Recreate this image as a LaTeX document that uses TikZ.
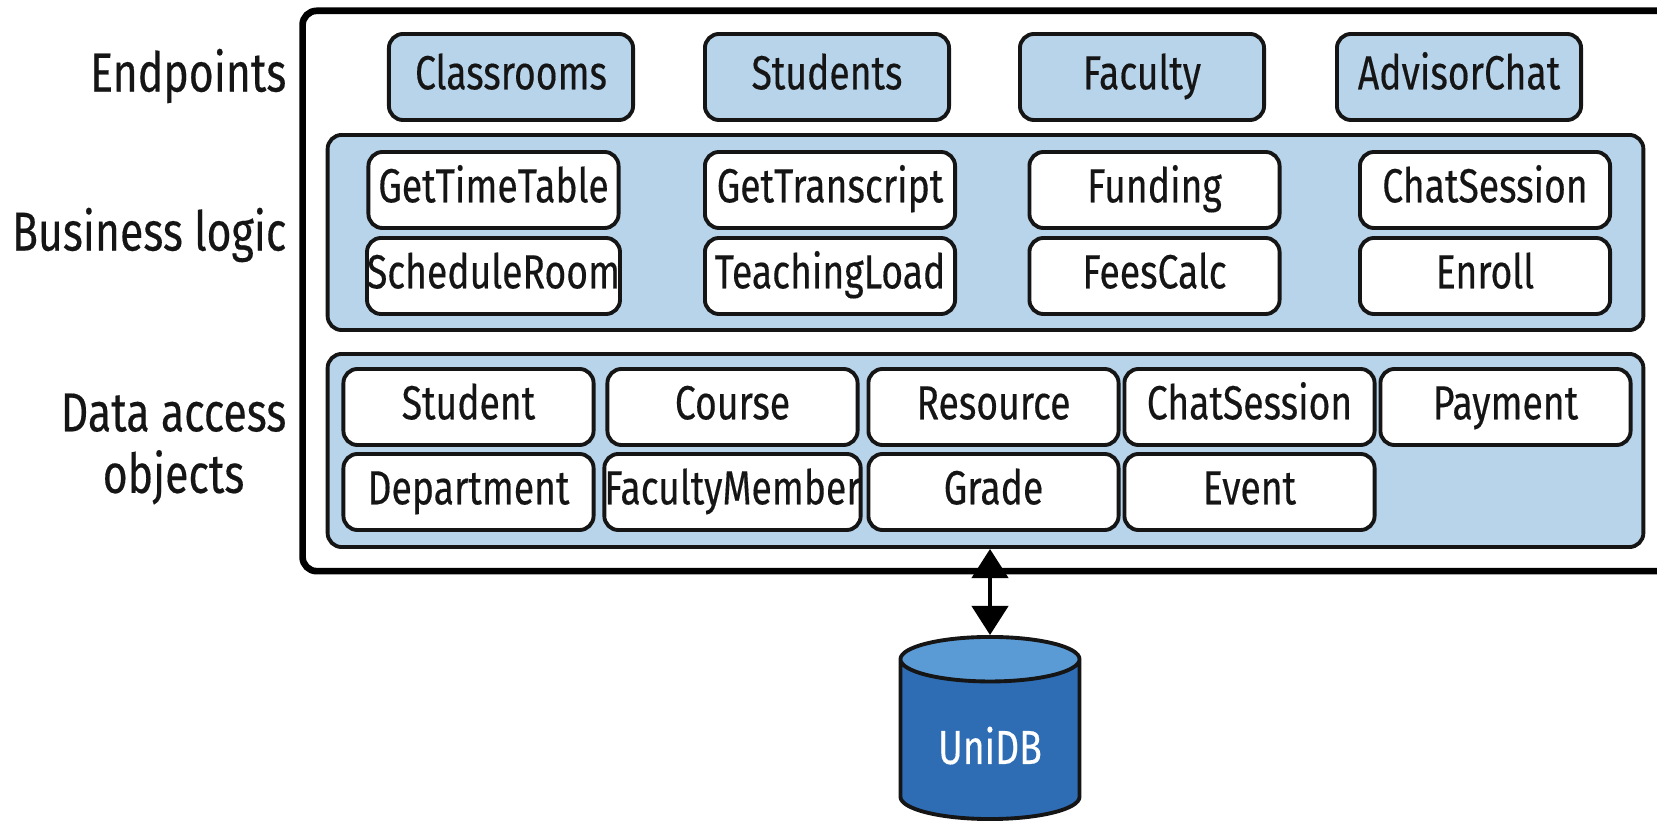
\documentclass[tikz,border=0pt]{standalone}
\usepackage{fontspec}
\newfontfamily\narrowsans[FakeStretch=0.78,FakeBold=0.3]{Fira Sans}
\newcommand\boxtxt{\narrowsans\fontsize{13.6}{16}\selectfont}
\newcommand\sidetxt{\narrowsans\fontsize{15.6}{17.5}\selectfont}
\usetikzlibrary{arrows.meta,shapes.geometric,positioning}

\definecolor{paleblue}{HTML}{B8D4EA}
\definecolor{dbblue}{HTML}{2E6DB4}
\definecolor{dbtop}{HTML}{5B9BD5}
\definecolor{ink}{HTML}{151515}

\begin{document}
\begin{tikzpicture}[x=0.01cm,y=-0.01cm,
    endpt/.style={draw=ink,fill=paleblue,line width=1.1pt,rounded corners=4pt,
      minimum width=2.44cm,minimum height=0.86cm,inner sep=0pt,text height=10pt,text depth=3pt,
      text=ink,font=\boxtxt},
    unit/.style={draw=ink,fill=white,line width=1.1pt,rounded corners=4pt,
      minimum width=2.5cm,minimum height=0.76cm,inner sep=0pt,text height=10pt,text depth=3pt,
      text=ink,font=\boxtxt},
    layer/.style={draw=ink,fill=paleblue,line width=1.1pt,rounded corners=4pt,inner sep=0pt},
    side/.style={anchor=east,align=center,inner sep=0pt,text=ink,font=\sidetxt},
    link/.style={arrows={Triangle[width=3.6mm,length=2.9mm]-Triangle[width=3.6mm,length=2.9mm]},
      line width=1.2pt,draw=black}]
  \useasboundingbox (0,0) rectangle (1657,822);

  % service frame and its two layers
  \node[draw=black,line width=1.9pt,rounded corners=4pt,minimum width=13.97cm,minimum height=5.6cm] (svc) at (1001.5,291) {};
  \node[layer,minimum width=13.15cm,minimum height=1.95cm] (bl) at (985.5,232.5) {};
  \node[layer,minimum width=13.15cm,minimum height=1.93cm] (dao) at (985.5,450.5) {};

  % endpoints
  \node[endpt] (cls) at (511,77) {Classrooms};
  \node[endpt] (stu) at (827,77) {Students};
  \node[endpt] (fac) at (1142,77) {Faculty};
  \node[endpt] (adv) at (1459,77) {AdvisorChat};

  % business logic
  \node[unit] (gtt) at (493.5,190) {GetTimeTable};
  \node[unit] (sch) at (493.5,276) {ScheduleRoom};
  \node[unit] (gtr) at (830,190) {GetTranscript};
  \node[unit] (tld) at (830,276) {TeachingLoad};
  \node[unit] (fun) at (1154.5,190) {Funding};
  \node[unit] (fee) at (1154.5,276) {FeesCalc};
  \node[unit] (chs) at (1485,190) {ChatSession};
  \node[unit] (enr) at (1485,276) {Enroll};

  % data access objects
  \node[unit] (st) at (468.5,407) {Student};
  \node[unit] (co) at (732.5,407) {Course};
  \node[unit] (re) at (993.5,407) {Resource};
  \node[unit] (cs) at (1249.5,407) {ChatSession};
  \node[unit] (pa) at (1505.5,407) {Payment};
  \node[unit] (de) at (468.5,492) {Department};
  \node[unit] (fm) at (732.5,492) {FacultyMember};
  \node[unit] (gr) at (993.5,492) {Grade};
  \node[unit] (ev) at (1249.5,492) {Event};

  % layer names
  \node[side] (lep) at (287,76) {Endpoints};
  \node[side] (lbl) at (287,235) {Business logic};
  \node[side] (lda) at (287,449) {Data access\\objects};

  % database
  \node[cylinder,shape border rotate=90,aspect=0.35,draw=ink,line width=1.1pt,
    cylinder uses custom fill,cylinder body fill=dbblue,cylinder end fill=dbtop,
    minimum width=1.79cm,minimum height=1.82cm,anchor=shape center,
    text=white,font=\boxtxt] (db) at (990,728) {UniDB};

  \draw[link] (dao.south -| db.north) -- (db.north);
\end{tikzpicture}
\end{document}
